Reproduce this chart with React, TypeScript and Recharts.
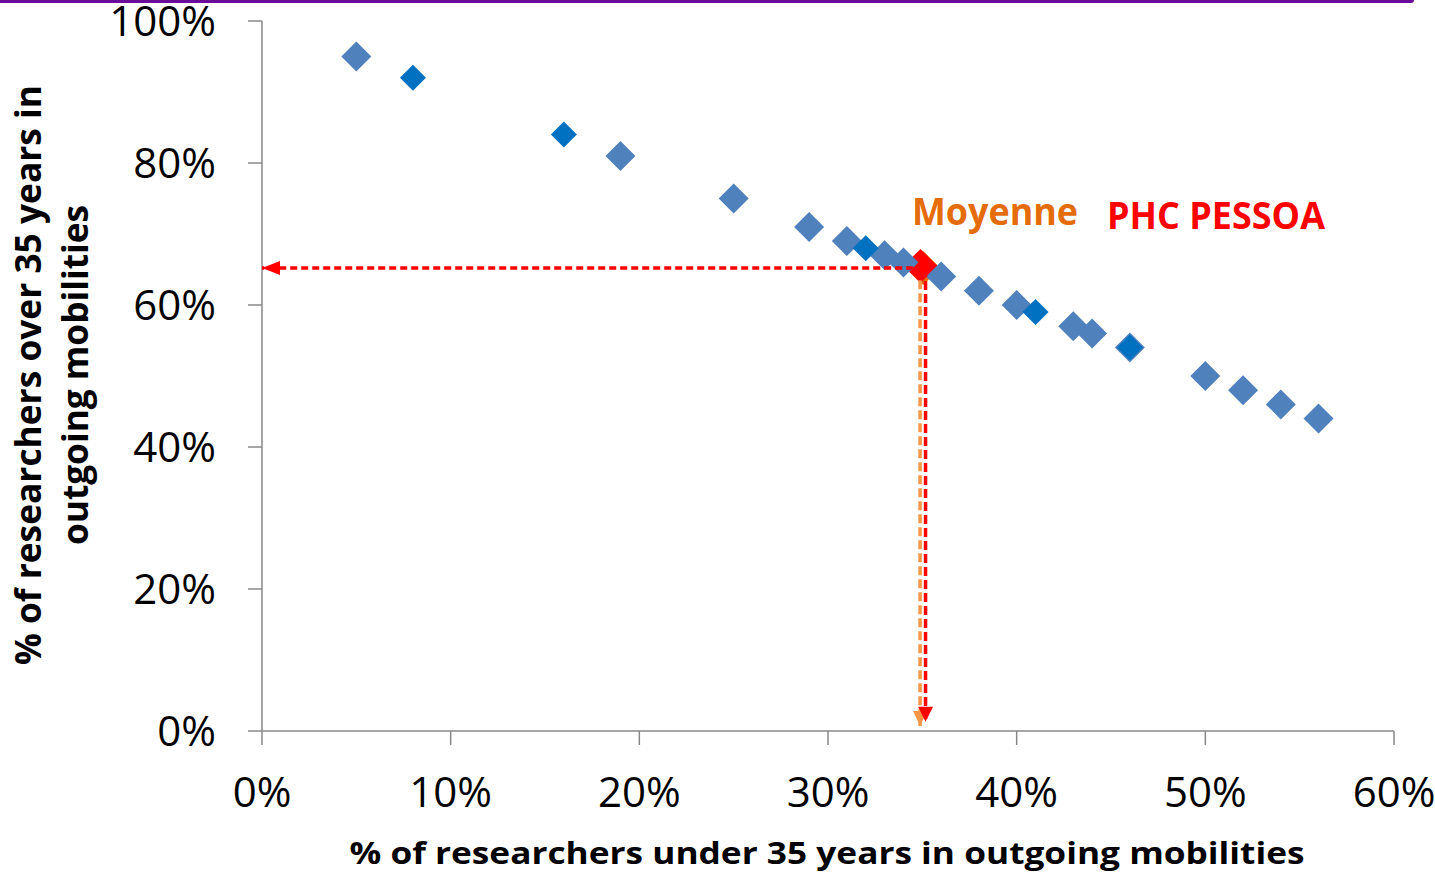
import { ScatterChart, Scatter, XAxis, YAxis, Customized } from 'recharts';

// Countries, light markers
const lightX = [5, 19, 25, 29, 31, 33, 34, 36, 38, 40, 43, 44, 46, 50, 52, 54, 56];
const lightY = [95, 81, 75, 71, 69, 67, 66, 64, 62, 60, 57, 56, 54, 50, 48, 46, 44];
// Countries, dark markers
const darkX = [8, 16, 32, 41, 46];
const darkY = [92, 84, 68, 59, 54];
// Average and PHC PESSOA
const moyenne = [{ x: 35.05, y: 65.2 }];
const pessoa = [{ x: 34.9, y: 65.5 }];
// Dashed arrows (start, tip)
const arrowRedH = [{ x: 35.1, y: 65.2 }, { x: 0, y: 65.2, tip: 'left' }];
const arrowRedV = [{ x: 35.17, y: 65.2 }, { x: 35.17, y: 1.3, tip: 'down' }];
const arrowOrangeV = [{ x: 34.88, y: 63.5 }, { x: 34.88, y: 0.7, tip: 'down' }];

const xTicks = [0, 10, 20, 30, 40, 50, 60];
const yTicks = [0, 20, 40, 60, 80, 100];

const lightData = lightX.map((x, i) => ({ x, y: lightY[i] }));
const darkData = darkX.map((x, i) => ({ x, y: darkY[i] }));

const axisColor = '#888888';
const tickFont = { fill: '#000', fontSize: 42, fontFamily: 'Open Sans' };

const diamond = (r: number, fill: string) => (props: any) => {
  const { cx, cy } = props;
  return <polygon points={`${cx},${cy - r} ${cx + r},${cy} ${cx},${cy + r} ${cx - r},${cy}`} fill={fill} />;
};

const arrowHead = (fill: string, len: number, half: number) => (props: any) => {
  const { cx, cy, payload } = props;
  if (payload?.tip === 'left') {
    return <polygon points={`${cx},${cy} ${cx + len},${cy - half} ${cx + len},${cy + half}`} fill={fill} />;
  }
  if (payload?.tip === 'down') {
    return <polygon points={`${cx},${cy} ${cx - half},${cy - len} ${cx + half},${cy - len}`} fill={fill} />;
  }
  return <g />;
};

const Titles = () => (
  <g fontFamily="Open Sans" fontWeight="bold">
    <text transform="translate(41,375) rotate(-90)" textAnchor="middle" fontSize={36} fill="#000"
      textLength={580} lengthAdjust="spacingAndGlyphs">
      % of researchers over 35 years in
    </text>
    <text transform="translate(88,375) rotate(-90)" textAnchor="middle" fontSize={36} fill="#000"
      textLength={340} lengthAdjust="spacingAndGlyphs">
      outgoing mobilities
    </text>
    <text x={827} y={864} textAnchor="middle" fontSize={31} fill="#000"
      textLength={955} lengthAdjust="spacingAndGlyphs">
      % of researchers under 35 years in outgoing mobilities
    </text>
    <text x={912} y={225} fontSize={38} fill="#E46C0A" textLength={166} lengthAdjust="spacingAndGlyphs">
      Moyenne
    </text>
    <text x={1107} y={229} fontSize={38} fill="#FF0000" textLength={218} lengthAdjust="spacingAndGlyphs">
      PHC PESSOA
    </text>
  </g>
);

export default function App() {
  return (
    <div style={{ position: 'absolute', left: 0, top: 0, width: 1435, height: 875, background: '#fff' }}>
      <ScatterChart width={1435} height={875} margin={{ top: 21, right: 41, bottom: 0, left: 0 }}>
        <XAxis
          type="number"
          dataKey="x"
          domain={[0, 60]}
          ticks={xTicks}
          tickFormatter={(v) => `${v}%`}
          height={144}
          tickSize={14}
          tickMargin={32}
          tick={tickFont}
          stroke={axisColor}
          strokeWidth={1.5}
          interval={0}
        />
        <YAxis
          type="number"
          dataKey="y"
          domain={[0, 100]}
          ticks={yTicks}
          tickFormatter={(v) => `${v}%`}
          width={262}
          tickSize={14}
          tickMargin={32}
          tick={tickFont}
          stroke={axisColor}
          strokeWidth={1.5}
          interval={0}
        />
        <Scatter data={moyenne} fill="#E46C0A" shape={diamond(17, '#E46C0A')} isAnimationActive={false} />
        <Scatter data={pessoa} fill="#FF0000" shape={diamond(17, '#FF0000')} isAnimationActive={false} />
        <Scatter data={lightData} fill="#4F81BD" shape={diamond(15, '#4F81BD')} isAnimationActive={false} />
        <Scatter data={darkData} fill="#0070C0" shape={diamond(13, '#0070C0')} isAnimationActive={false} />
        <Scatter
          data={arrowOrangeV}
          line={{ stroke: '#F79646', strokeWidth: 3.5, strokeDasharray: '9 4' }}
          shape={arrowHead('#F79646', 15, 7)}
          isAnimationActive={false}
        />
        <Scatter
          data={arrowRedV}
          line={{ stroke: '#FF0000', strokeWidth: 3.5, strokeDasharray: '9 4' }}
          shape={arrowHead('#FF0000', 15, 7.5)}
          isAnimationActive={false}
        />
        <Scatter
          data={arrowRedH}
          line={{ stroke: '#FF0000', strokeWidth: 3.5, strokeDasharray: '7 4' }}
          shape={arrowHead('#FF0000', 18, 7)}
          isAnimationActive={false}
        />
        <Customized component={Titles} />
      </ScatterChart>
      <div style={{ position: 'absolute', left: 0, top: 0, width: 1414, height: 3, background: '#6A0C9A', borderBottomRightRadius: 3 }} />
    </div>
  );
}
